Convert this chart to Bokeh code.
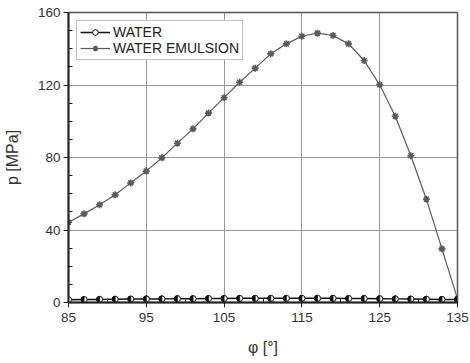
from bokeh.plotting import figure
from bokeh.models import FixedTicker, Legend, LegendItem, ColumnDataSource
from bokeh.embed import file_html
from bokeh.resources import INLINE

phi = [85, 87, 89, 91, 93, 95, 97, 99, 101, 103, 105, 107, 109, 111, 113,
       115, 117, 119, 121, 123, 125, 127, 129, 131, 133, 135]
water = [1.5, 1.6, 1.7, 1.8, 1.9, 2.0, 2.0, 2.1, 2.1, 2.2, 2.2, 2.3, 2.3, 2.3, 2.3,
         2.3, 2.3, 2.3, 2.2, 2.2, 2.1, 2.0, 1.9, 1.8, 1.7, 1.6]
emulsion = [44.3, 48.9, 53.9, 59.4, 66.0, 72.5, 79.8, 87.9, 95.8, 104.5, 113.0,
            121.5, 129.3, 137.2, 142.7, 146.9, 148.6, 147.3, 142.7, 133.5, 120.1,
            102.8, 81.0, 57.0, 29.6, 2.0]
x_ticks = [85, 95, 105, 115, 125, 135]
x_minor = [90, 100, 110, 120, 130]
y_ticks = [0, 40, 80, 120, 160]
y_minor = [10, 20, 30, 50, 60, 70, 90, 100, 110, 130, 140, 150]

FONT = "Liberation Sans"

p = figure(frame_width=389, frame_height=290, x_range=(85, 135), y_range=(0, 160),
           output_backend="svg", toolbar_location=None,
           min_border_left=60, min_border_right=12, min_border_top=12, min_border_bottom=50)

p.outline_line_color = "#555555"
p.outline_line_width = 1.5
p.background_fill_color = "white"
p.border_fill_color = "white"

for ax in (p.xaxis[0], p.yaxis[0]):
    ax.axis_line_color = "#222222"
    ax.axis_line_width = 2
    ax.major_tick_line_color = "#222222"
    ax.minor_tick_line_color = "#222222"
    ax.major_tick_out = 5
    ax.major_tick_in = 0
    ax.minor_tick_in = 4
    ax.minor_tick_out = 0
    ax.major_label_text_font = FONT
    ax.major_label_text_font_size = "13.5px"
    ax.major_label_text_color = "#333333"
    ax.axis_label_text_font = FONT
    ax.axis_label_text_font_size = "16px"
    ax.axis_label_text_font_style = "normal"
    ax.axis_label_text_color = "#333333"

p.xaxis.ticker = FixedTicker(ticks=x_ticks, minor_ticks=x_minor)
p.yaxis.ticker = FixedTicker(ticks=y_ticks, minor_ticks=y_minor)
p.xaxis.axis_label = "φ [°]"
p.yaxis.axis_label = "p [MPa]"
p.xaxis.axis_label_standoff = 14
p.yaxis.axis_label_standoff = 14
p.xaxis.major_label_standoff = 5
p.yaxis.major_label_standoff = 3

p.xgrid.grid_line_color = "#999999"
p.ygrid.grid_line_color = "#999999"
p.xgrid.grid_line_width = 1
p.ygrid.grid_line_width = 1

src = ColumnDataSource(dict(phi=phi, water=water, emulsion=emulsion))

l_em = p.line("phi", "emulsion", source=src, line_color="#5a5a5a", line_width=1.2)
m_em = p.scatter("phi", "emulsion", source=src, marker="asterisk", size=7,
                 line_color="#5a5a5a", line_width=1.6)

l_w = p.line("phi", "water", source=src, line_color="#111111", line_width=1.5)
m_w = p.scatter("phi", "water", source=src, marker="circle", size=6,
                fill_color="white", line_color="#111111", line_width=1)
p.wedge("phi", "water", source=src, radius=3, radius_units="screen",
        start_angle=1.5708, end_angle=4.7124, fill_color="#111111", line_color="#111111")
p.wedge("phi", "water", source=src, radius=3, radius_units="screen",
        start_angle=-1.5708, end_angle=1.5708, fill_color="white", line_color="#111111",
        line_width=0.8)

legend = Legend(items=[LegendItem(label="WATER", renderers=[l_w, m_w]),
                       LegendItem(label="WATER EMULSION", renderers=[l_em, m_em])],
                location="top_left")
legend.label_text_font = FONT
legend.label_text_font_size = "14px"
legend.label_text_color = "#222222"
legend.glyph_width = 30
legend.glyph_height = 14
legend.label_height = 14
legend.spacing = 0
legend.padding = 3
legend.margin = 8
legend.label_standoff = 3
legend.border_line_color = "#888888"
legend.border_line_width = 1
legend.background_fill_alpha = 1.0
p.add_layout(legend)

open("out.html", "w").write(file_html(p, INLINE))
